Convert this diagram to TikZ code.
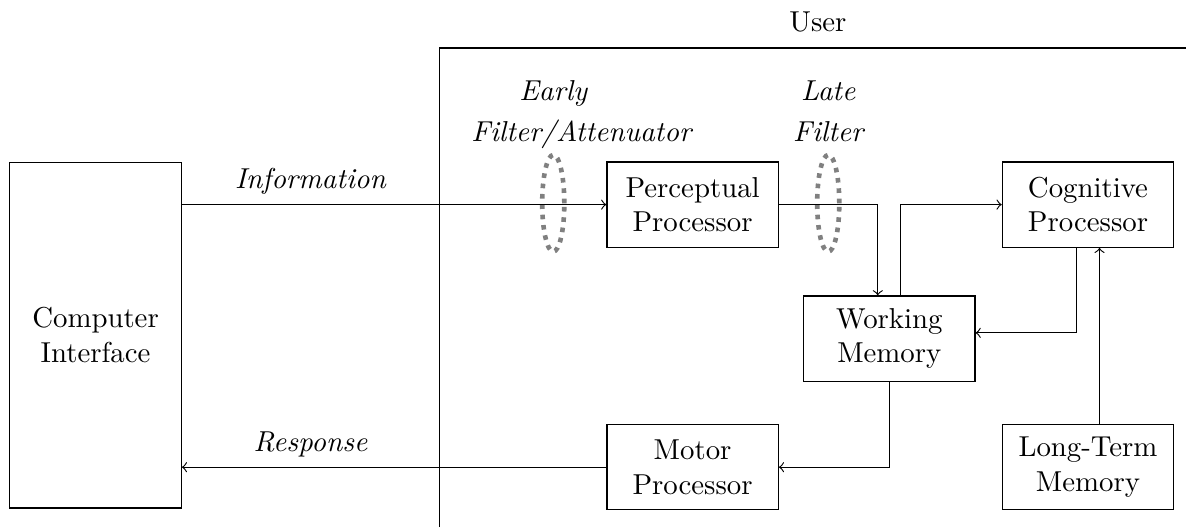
\documentclass[tikz,border=0pt]{standalone}
\usetikzlibrary{positioning,shapes.geometric}

\begin{document}
\begin{tikzpicture}[
  box/.style={draw, align=center, minimum width=2.09cm, minimum height=1.04cm},
  filt/.style={draw=gray, ultra thick, dotted, ellipse, inner sep=0pt, minimum width=0.27cm, minimum height=1.18cm},
  lbl/.style={font=\itshape, align=center},
  node distance=2.72cm
]
\useasboundingbox (0,0) rectangle (14.47,-6.43);
\coordinate (ucorner) at (5.357,-0.586);
\coordinate (ubot) at (5.357,-6.43);
\coordinate (uend) at (14.47,-0.586);
\draw (ubot) -- (ucorner) -- (uend);
\node[above=2pt] (user) at (9.98,-0.586) {User};
\node[box, minimum height=4.22cm] (ci) at (1.166,-4.088) {Computer\\Interface};
\node[box] (perc) at (8.45,-2.496) {Perceptual\\Processor};
\node[box, right=of perc] (cog) {Cognitive\\Processor};
\node[box] (wm) at (10.85,-4.131) {Working\\Memory};
\node[box, below=2.15cm of perc] (motor) {Motor\\Processor};
\node[box, right=of motor] (ltm) {Long-Term\\Memory};
\node[filt] (early) at (6.75,-2.48) {};
\node[filt] (late) at (10.105,-2.48) {};
\node[lbl, text width=2cm, above=-2pt of early] (earlylbl) {Early\\[2pt]Filter/Attenuator};
\node[lbl, text width=2cm, above=0.3pt of late] (latelbl) {Late\\[2pt]Filter};
\coordinate (cogin) at ([xshift=4pt]cog.south);
\draw[->] (perc.west -| ci.east) -- node[lbl, above] (info) {Information} (perc.west -| ucorner) -- (perc.west);
\draw[->] (perc.east) -| ([xshift=-4pt]wm.north);
\draw[->] ([xshift=4pt]wm.north) |- (cog.west);
\draw[->] ([xshift=-4pt]cog.south) |- ([yshift=2pt]wm.east);
\draw[->] (cogin |- ltm.north) -- (cogin);
\draw[->] (wm.south) |- (motor.east);
\draw[->] (motor.west) -- (motor.west -| ucorner) -- node[lbl, above] (resp) {Response} (motor.west -| ci.east);
\end{tikzpicture}
\end{document}
